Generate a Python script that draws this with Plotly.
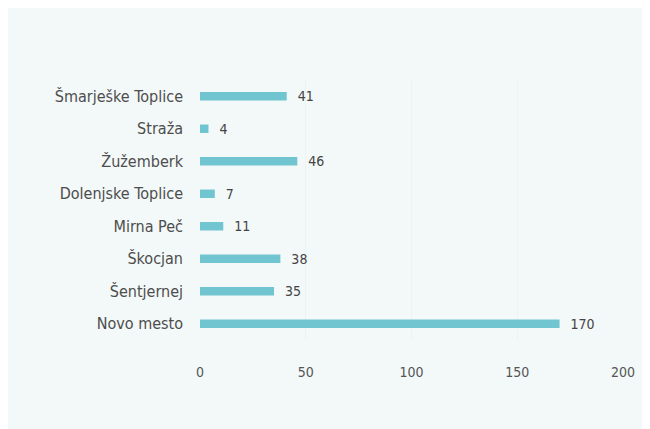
import plotly.graph_objects as go

# data (top to bottom as shown)
municipalities = ["Šmarješke Toplice", "Straža", "Žužemberk", "Dolenjske Toplice",
                  "Mirna Peč", "Škocjan", "Šentjernej", "Novo mesto"]
counts = [41, 4, 46, 7, 11, 38, 35, 170]
x_ticks = [0, 50, 100, 150, 200]

FONT = "DejaVu Sans Condensed, DejaVu Sans, sans-serif"

fig = go.Figure(go.Bar(
    y=municipalities,
    x=counts,
    orientation="h",
    width=0.26,
    marker=dict(color="#70c5d0", line=dict(width=0)),
    texttemplate="  %{x}",
    textposition="outside",
    constraintext="none",
    textfont=dict(family=FONT, size=14, color="#444444"),
    cliponaxis=False,
))

# page body adds an 8px white margin, so the figure is slightly smaller
fig.update_layout(
    width=642, height=421,
    margin=dict(l=192, r=27, t=72, b=89),
    paper_bgcolor="#f3f8f8",
    plot_bgcolor="rgba(0,0,0,0)",
    showlegend=False,
    font=dict(family=FONT, size=14, color="#4d4d4d"),
)
fig.update_xaxes(
    range=[0, 200], tickvals=x_ticks,
    showgrid=True, gridcolor="rgba(225,235,235,0.4)", gridwidth=1,
    zeroline=False, showline=False,
    ticklabelstandoff=22,
    tickfont=dict(family=FONT, size=14, color="#555555"),
)
fig.update_yaxes(
    autorange="reversed",
    showgrid=False, zeroline=False, showline=False,
    ticklabelstandoff=16,
    tickfont=dict(family=FONT, size=16, color="#4d4d4d"),
)

fig.write_html("out.html")
